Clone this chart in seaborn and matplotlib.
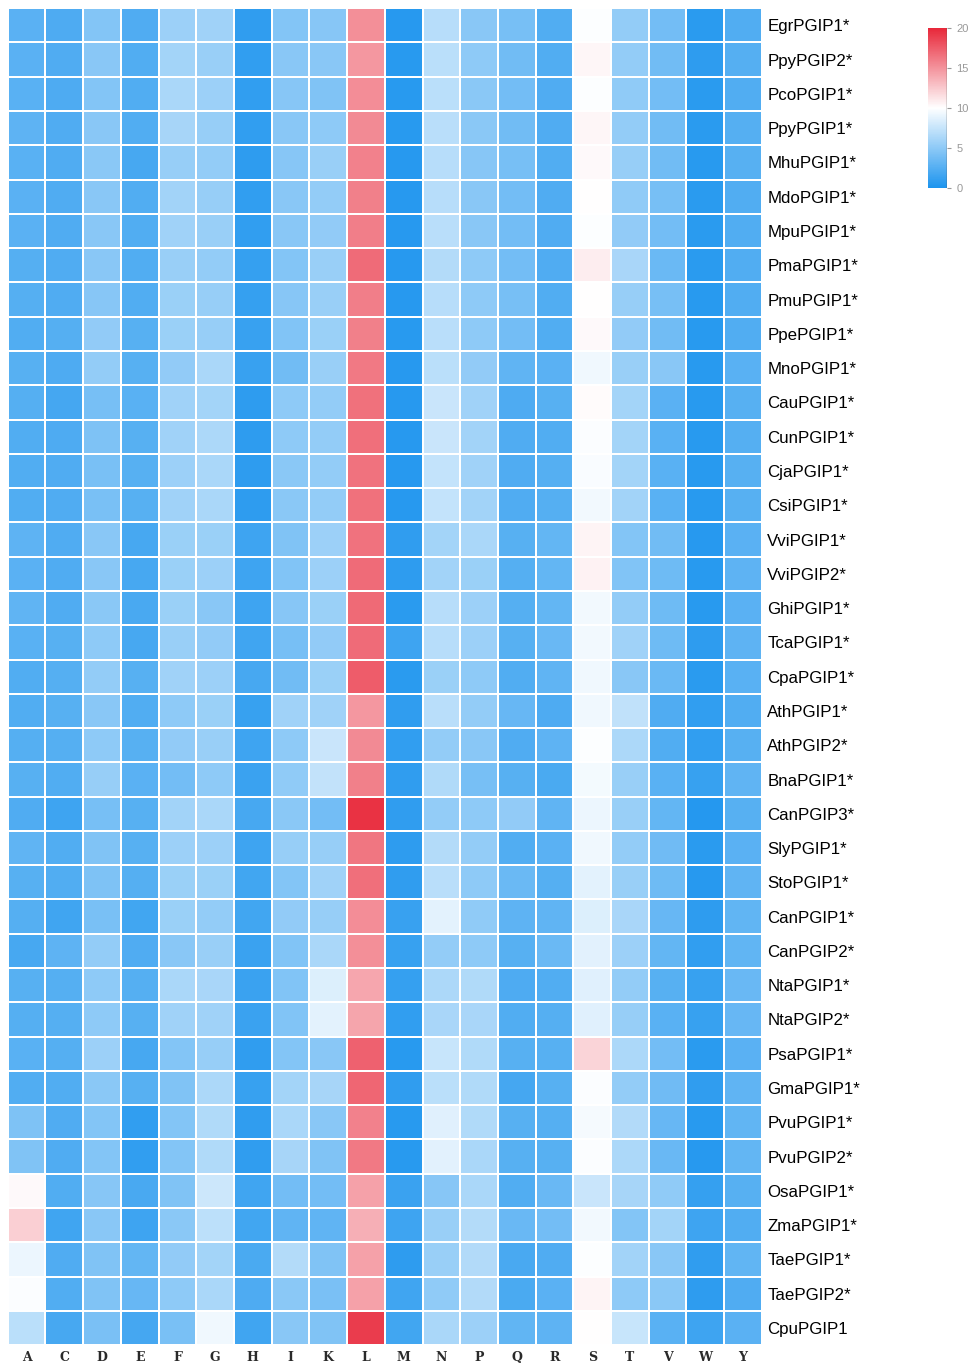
import numpy as np
import pandas as pd
import matplotlib
matplotlib.use("Agg")
import matplotlib.pyplot as plt
from matplotlib.colors import LinearSegmentedColormap
import seaborn as sns

amino_acids = ["A", "C", "D", "E", "F", "G", "H", "I", "K", "L",
               "M", "N", "P", "Q", "R", "S", "T", "V", "W", "Y"]

proteins = [
    "EgrPGIP1*", "PpyPGIP2*", "PcoPGIP1*", "PpyPGIP1*", "MhuPGIP1*",
    "MdoPGIP1*", "MpuPGIP1*", "PmaPGIP1*", "PmuPGIP1*", "PpePGIP1*",
    "MnoPGIP1*", "CauPGIP1*", "CunPGIP1*", "CjaPGIP1*", "CsiPGIP1*",
    "VviPGIP1*", "VviPGIP2*", "GhiPGIP1*", "TcaPGIP1*", "CpaPGIP1*",
    "AthPGIP1*", "AthPGIP2*", "BnaPGIP1*", "CanPGIP3*", "SlyPGIP1*",
    "StoPGIP1*", "CanPGIP1*", "CanPGIP2*", "NtaPGIP1*", "NtaPGIP2*",
    "PsaPGIP1*", "GmaPGIP1*", "PvuPGIP1*", "PvuPGIP2*", "OsaPGIP1*",
    "ZmaPGIP1*", "TaePGIP1*", "TaePGIP2*", "CpuPGIP1",
]

# Amino acid composition (%) per protein, columns in the order of amino_acids
composition = [
    [2.8, 2.2, 4.6, 2.3, 5.7, 5.8, 0.9, 4.6, 4.7, 15.2, 0.5, 6.8, 4.8, 4.0, 2.4, 9.9, 5.3, 3.9, 0.7, 2.4],
    [2.8, 2.3, 4.8, 2.4, 6.0, 5.5, 1.0, 4.8, 4.8, 14.8, 0.6, 7.0, 5.0, 3.8, 2.4, 10.4, 5.3, 3.8, 0.8, 2.5],
    [2.7, 2.2, 4.6, 2.4, 6.3, 5.7, 1.0, 4.7, 4.4, 15.3, 0.6, 7.0, 4.9, 3.9, 2.3, 9.9, 5.1, 3.9, 0.7, 2.4],
    [2.9, 2.3, 4.8, 2.4, 6.1, 5.4, 1.0, 4.8, 5.0, 15.4, 0.6, 6.9, 4.9, 3.8, 2.3, 10.4, 5.3, 3.8, 0.7, 2.5],
    [2.7, 2.3, 4.9, 1.9, 5.4, 5.3, 0.8, 4.7, 5.5, 15.8, 0.5, 6.8, 4.7, 4.0, 2.4, 10.3, 5.4, 3.8, 0.6, 2.6],
    [2.8, 2.3, 4.8, 2.4, 5.9, 5.4, 1.0, 4.8, 5.3, 15.9, 0.5, 6.8, 4.8, 3.9, 2.3, 10.0, 5.1, 4.0, 0.7, 2.4],
    [2.8, 2.3, 4.8, 2.4, 5.8, 5.5, 1.0, 4.8, 5.2, 16.0, 0.5, 6.9, 4.8, 3.9, 2.3, 9.9, 5.2, 3.9, 0.7, 2.4],
    [2.5, 2.3, 4.8, 2.4, 5.5, 5.3, 1.1, 4.6, 5.5, 16.8, 0.5, 6.7, 5.0, 3.9, 2.3, 10.8, 6.2, 3.5, 0.7, 2.4],
    [2.5, 2.3, 4.7, 2.4, 5.6, 5.4, 1.1, 4.7, 5.5, 16.0, 0.5, 6.8, 5.0, 4.0, 2.4, 10.0, 5.4, 4.0, 0.6, 2.4],
    [2.4, 2.5, 5.2, 2.6, 5.6, 5.4, 1.3, 4.5, 5.6, 15.9, 0.6, 6.9, 5.0, 3.9, 2.4, 10.3, 5.2, 3.8, 0.6, 2.4],
    [2.6, 2.2, 5.3, 2.6, 5.2, 6.3, 1.3, 3.8, 5.5, 16.2, 0.5, 7.0, 5.2, 3.0, 2.8, 9.3, 5.5, 4.8, 0.6, 2.7],
    [2.5, 1.8, 4.0, 2.7, 5.8, 6.0, 0.8, 5.0, 5.3, 16.6, 0.5, 7.6, 5.8, 2.2, 2.6, 10.2, 6.0, 2.8, 0.6, 2.6],
    [2.4, 2.2, 4.3, 2.6, 5.8, 6.4, 0.8, 5.0, 5.3, 16.7, 0.5, 7.6, 5.9, 2.3, 2.4, 9.8, 6.0, 2.7, 0.6, 2.5],
    [2.4, 2.3, 4.1, 2.6, 5.7, 6.3, 0.8, 4.9, 5.3, 16.5, 0.5, 7.4, 5.8, 2.3, 2.5, 9.7, 6.0, 2.7, 0.6, 2.6],
    [2.4, 2.3, 4.1, 2.6, 5.8, 6.3, 0.8, 4.9, 5.3, 16.6, 0.5, 7.4, 5.9, 2.3, 2.5, 9.4, 5.9, 2.7, 0.6, 2.6],
    [2.9, 2.3, 4.8, 1.9, 5.6, 5.6, 1.5, 4.4, 5.7, 16.5, 0.9, 6.0, 6.3, 2.6, 3.2, 10.5, 4.6, 3.8, 0.5, 2.8],
    [2.8, 2.3, 4.8, 1.9, 5.6, 5.7, 1.5, 4.5, 5.7, 16.8, 0.8, 5.9, 5.6, 2.5, 3.2, 10.6, 4.5, 3.6, 0.6, 2.9],
    [3.0, 2.3, 4.9, 2.0, 5.6, 4.8, 1.5, 4.7, 5.6, 16.9, 0.7, 6.8, 5.7, 2.5, 3.2, 9.4, 5.3, 3.6, 0.6, 2.8],
    [2.7, 2.6, 5.0, 1.9, 5.5, 5.2, 1.6, 4.0, 5.2, 16.8, 1.5, 6.8, 5.7, 2.6, 3.4, 9.4, 5.8, 3.6, 0.8, 2.9],
    [2.4, 2.5, 5.3, 2.6, 5.8, 5.7, 1.9, 3.8, 5.6, 17.5, 0.7, 5.6, 5.0, 2.4, 3.0, 9.3, 4.8, 3.5, 0.7, 2.7],
    [2.4, 2.6, 4.8, 2.4, 5.0, 5.6, 1.2, 5.8, 5.8, 14.8, 0.9, 6.9, 5.3, 3.3, 2.2, 9.3, 7.2, 2.3, 1.0, 2.4],
    [2.5, 2.5, 5.0, 2.6, 5.2, 5.5, 1.5, 5.0, 7.6, 15.4, 1.0, 5.3, 4.8, 2.3, 2.9, 9.9, 6.4, 2.4, 1.0, 2.6],
    [2.6, 2.4, 5.4, 2.8, 3.9, 5.0, 1.4, 5.1, 7.3, 15.9, 0.9, 6.5, 4.0, 2.6, 2.1, 9.5, 5.5, 2.7, 1.2, 3.0],
    [2.3, 1.5, 4.0, 2.6, 5.9, 6.3, 1.9, 4.9, 3.9, 19.5, 0.9, 5.3, 5.0, 5.2, 3.0, 9.2, 5.5, 3.2, 0.4, 2.6],
    [3.0, 2.4, 4.4, 2.6, 5.7, 5.7, 1.5, 5.4, 5.4, 16.4, 0.8, 6.7, 5.3, 2.4, 2.8, 9.3, 5.3, 3.7, 0.7, 2.8],
    [2.6, 2.4, 4.3, 2.5, 5.6, 5.6, 1.7, 4.6, 5.8, 16.7, 0.9, 6.9, 5.0, 3.5, 2.5, 8.8, 5.5, 3.6, 0.5, 3.0],
    [2.5, 1.6, 4.1, 1.7, 5.6, 5.3, 1.7, 5.2, 5.4, 15.3, 1.3, 8.8, 5.1, 2.9, 3.0, 8.5, 6.2, 3.3, 0.8, 3.1],
    [1.9, 2.9, 5.3, 2.3, 4.8, 5.5, 1.4, 4.5, 6.3, 15.2, 1.2, 5.3, 5.0, 2.6, 3.5, 8.7, 5.7, 3.2, 1.0, 3.1],
    [2.6, 2.5, 5.0, 2.5, 6.3, 6.2, 1.4, 4.5, 8.5, 14.1, 1.1, 6.4, 6.5, 2.2, 2.4, 8.6, 5.3, 2.6, 1.2, 3.4],
    [2.5, 2.5, 5.0, 2.6, 5.8, 5.8, 1.4, 4.5, 8.8, 14.2, 1.0, 6.2, 6.2, 2.4, 2.5, 8.6, 5.4, 2.7, 1.2, 3.3],
    [2.7, 2.5, 5.7, 1.9, 4.6, 5.4, 0.9, 4.6, 4.8, 17.3, 0.6, 7.5, 6.5, 2.6, 2.6, 12.0, 6.4, 3.9, 0.7, 2.8],
    [2.4, 2.4, 4.9, 2.6, 4.4, 6.4, 1.2, 6.0, 6.1, 17.1, 0.9, 7.0, 6.5, 1.8, 2.6, 9.8, 5.3, 3.7, 0.9, 3.0],
    [4.3, 2.3, 4.6, 1.0, 4.6, 6.5, 0.9, 6.3, 4.8, 15.8, 0.6, 8.6, 6.5, 2.6, 2.5, 9.6, 6.6, 3.3, 0.6, 3.1],
    [4.4, 2.3, 4.6, 1.0, 4.6, 6.5, 0.9, 6.1, 4.4, 16.2, 0.6, 8.7, 6.3, 2.6, 2.6, 9.8, 6.4, 3.4, 0.5, 3.2],
    [10.3, 2.4, 4.7, 2.0, 4.4, 7.8, 1.6, 3.9, 3.9, 14.3, 1.4, 4.7, 6.3, 2.4, 3.4, 7.6, 6.1, 5.1, 1.1, 2.6],
    [12.2, 1.6, 4.8, 1.5, 4.9, 7.1, 1.7, 3.0, 3.0, 13.7, 1.5, 5.5, 6.7, 3.4, 3.9, 9.4, 4.6, 6.0, 1.5, 2.4],
    [9.2, 2.3, 4.4, 3.2, 5.2, 6.0, 2.1, 6.7, 4.4, 14.3, 0.8, 5.5, 6.6, 2.0, 2.3, 9.9, 5.9, 4.8, 0.9, 3.1],
    [9.8, 2.4, 4.4, 3.3, 5.0, 6.3, 2.2, 4.9, 4.2, 14.3, 1.6, 5.1, 6.6, 2.1, 2.8, 10.5, 5.0, 4.9, 0.8, 2.3],
    [7.0, 1.9, 4.2, 1.8, 4.1, 9.3, 1.6, 4.8, 4.4, 19.0, 1.7, 6.3, 5.7, 3.1, 2.9, 10.0, 7.5, 2.7, 1.5, 2.8],
]

colorbar_ticks = [0, 5, 10, 15, 20]

df = pd.DataFrame(composition, index=proteins, columns=amino_acids)

sns.set_theme(style="white")
plt.rcParams["font.family"] = ["Liberation Sans", "DejaVu Sans"]

cmap = LinearSegmentedColormap.from_list(
    "blue_white_red", ["#1C94EE", "#FFFFFF", "#E8283A"])

fig = plt.figure(figsize=(9.73, 13.67), dpi=100)
ax = fig.add_axes([0.008, 0.016, 0.775, 0.978])
cax = fig.add_axes([0.954, 0.8625, 0.0195, 0.117])

sns.heatmap(df, ax=ax, cbar_ax=cax, cmap=cmap, vmin=0, vmax=20,
            linewidths=1.3, linecolor="white",
            cbar_kws={"ticks": colorbar_ticks})

# protein names on the right
ax.yaxis.tick_right()
ax.set_yticklabels(proteins, rotation=0, ha="left", fontsize=12.2,
                   color="#000000")
ax.set_xticklabels(amino_acids, rotation=0, fontsize=9,
                   family="DejaVu Serif", fontweight="bold",
                   color="#2a2a2a")
ax.tick_params(axis="both", length=0)
ax.tick_params(axis="y", pad=4)
ax.tick_params(axis="x", pad=4)
ax.set_xlabel("")
ax.set_ylabel("")

cax.tick_params(labelsize=8, colors="#999999", length=3, width=0.8)
for s in cax.spines.values():
    s.set_visible(False)
cax.axvline(1, color="#555555", lw=1.0)

fig.savefig("out.png", dpi=100)
